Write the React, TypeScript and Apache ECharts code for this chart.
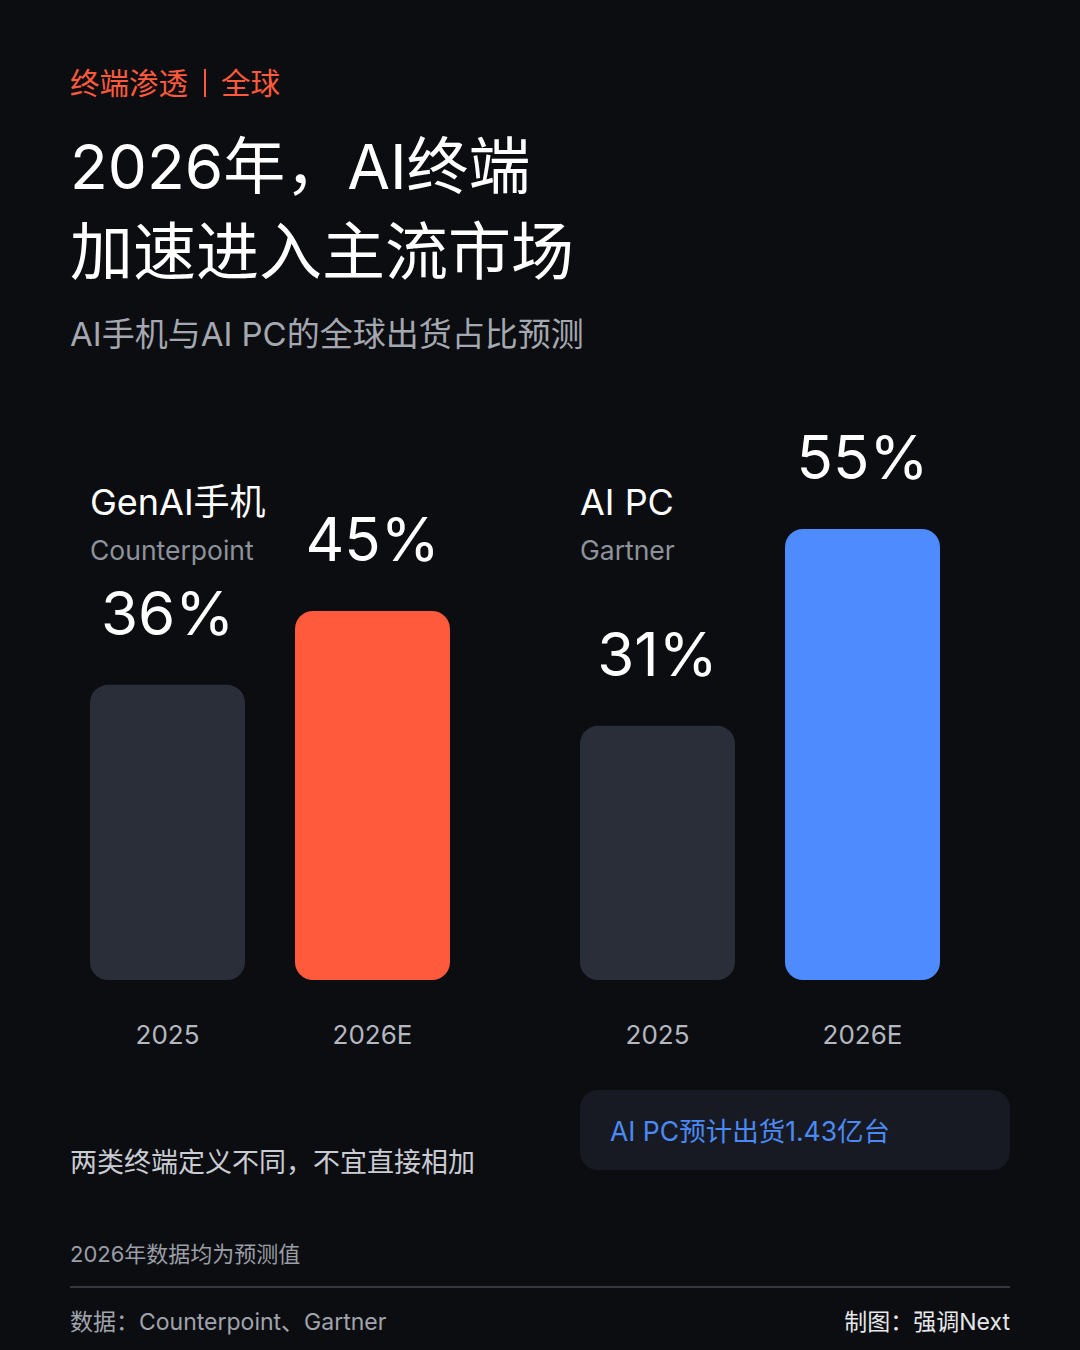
import React, { useEffect, useRef } from "react";
import * as echarts from "echarts";

const phoneCategories = ["2025", "2026E"];
const phoneValues = [36, 45];
const pcCategories = ["2025", "2026E"];
const pcValues = [31, 55];

const FONT = "Inter, 'Noto Sans CJK SC', sans-serif";
const BG = "#0c0d11";
const DARK_BAR = "#2a2e38";
const ORANGE = "#ff5a3c";
const BLUE = "#4d8bff";

function barData(values: number[], highlight: string) {
  return values.map((v, i) => ({
    value: v,
    itemStyle: { color: i === 0 ? DARK_BAR : highlight },
  }));
}

export default function App() {
  const ref = useRef<HTMLDivElement>(null);
  useEffect(() => {
    document.body.style.margin = "0";
    const chart = echarts.init(ref.current!, null, { renderer: "svg" });
    const labelCfg = {
      show: true,
      position: "top",
      distance: 42,
      formatter: "{c}%",
      color: "#ffffff",
      fontSize: 60,
      fontFamily: FONT,
    };
    const xAxisBase = {
      type: "category",
      axisLine: { show: false },
      axisTick: { show: false },
      axisLabel: { color: "#b4b8c0", fontSize: 26, margin: 41, fontFamily: FONT },
    };
    const text = (x: number, y: number, t: string, size: number, color: string, extra: any = {}) => ({
      type: "text",
      x,
      y,
      style: {
        text: t,
        fontSize: size,
        fill: color,
        fontFamily: FONT,
        verticalAlign: "middle",
        align: "left",
        ...extra,
      },
    });
    chart.setOption({
      animation: false,
      backgroundColor: BG,
      grid: [
        { left: 65, width: 410, top: 488, height: 492 },
        { left: 555, width: 410, top: 488, height: 492 },
      ],
      xAxis: [
        { ...xAxisBase, gridIndex: 0, data: phoneCategories },
        { ...xAxisBase, gridIndex: 1, data: pcCategories },
      ],
      yAxis: [
        { type: "value", gridIndex: 0, min: 0, max: 60, show: false },
        { type: "value", gridIndex: 1, min: 0, max: 60, show: false },
      ],
      series: [
        {
          type: "bar",
          xAxisIndex: 0,
          yAxisIndex: 0,
          barWidth: 155,
          data: barData(phoneValues, ORANGE),
          itemStyle: { borderRadius: 18 },
          label: labelCfg,
        },
        {
          type: "bar",
          xAxisIndex: 1,
          yAxisIndex: 1,
          barWidth: 155,
          data: barData(pcValues, BLUE),
          itemStyle: { borderRadius: 18 },
          label: labelCfg,
        },
      ],
      graphic: [
        text(70, 83, "终端渗透", 29.5, ORANGE),
        {
          type: "line",
          shape: { x1: 205, y1: 69, x2: 205, y2: 97 },
          style: { stroke: ORANGE, lineWidth: 2 },
        },
        text(221, 83, "全球", 29.5, ORANGE),
        text(70, 166, "2026年，AI终端", 62, "#ffffff"),
        text(70, 251, "加速进入主流市场", 63, "#ffffff"),
        text(70, 334, "AI手机与AI PC的全球出货占比预测", 33, "#a4a8b0"),
        text(90, 502, "GenAI手机", 36, "#ffffff"),
        text(90, 550, "Counterpoint", 26.5, "#8e939b"),
        text(580, 502, "AI PC", 36, "#ffffff"),
        text(580, 550, "Gartner", 26.5, "#8e939b"),
        text(70, 1162, "两类终端定义不同，不宜直接相加", 27, "#c9ccd2"),
        {
          type: "rect",
          shape: { x: 580, y: 1090, width: 430, height: 80, r: 18 },
          style: { fill: "#171a22" },
        },
        text(610, 1131, "AI PC预计出货1.43亿台", 26.5, "#4b8af5"),
        text(70, 1254, "2026年数据均为预测值", 22, "#9a9ea6"),
        {
          type: "line",
          shape: { x1: 70, y1: 1287, x2: 1010, y2: 1287 },
          style: { stroke: "#34373f", lineWidth: 2 },
        },
        text(70, 1322, "数据：Counterpoint、Gartner", 23, "#a0a4ac"),
        text(1010, 1322, "制图：强调Next", 23, "#e6e8eb", { align: "right" }),
      ],
    });
    return () => chart.dispose();
  }, []);
  return <div ref={ref} style={{ width: 1080, height: 1350 }} />;
}
